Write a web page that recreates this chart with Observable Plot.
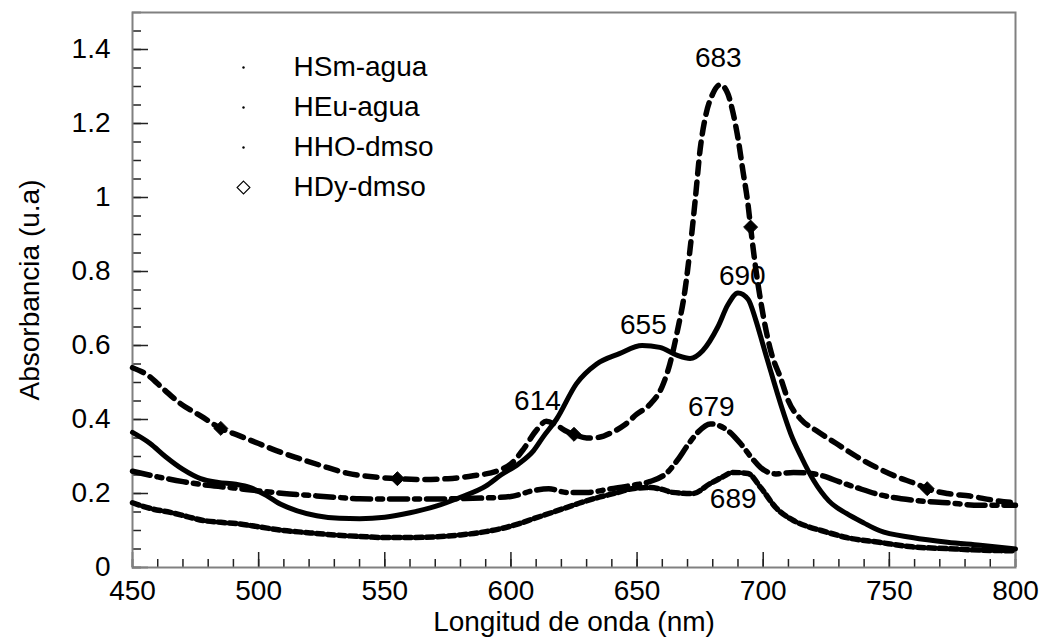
<!DOCTYPE html>
<html><head><meta charset="utf-8">
<script src="https://cdn.jsdelivr.net/npm/d3@7"></script>
<script src="https://cdn.jsdelivr.net/npm/@observablehq/plot@0.6"></script>
<style>
body{margin:0;background:#fff;}
svg{font-family:"Liberation Sans",Arial,sans-serif;}
</style>
</head><body><div id="chart"></div>
<script>
// ---- data ----
const seriesNames = ["HSm-agua", "HEu-agua", "HHO-dmso", "HDy-dmso"];

// HSm-agua (dotted, band 689)
const wlHSm  = [450,458,465,472,478,485,492,500,510,518,530,540,550,560,570,580,590,596,603,609,616,622,628,635,642,648,655,660,664,672,679,684,688,694,699,705,712,718,723,733,746,759,773,786,800];
const absHSm = [0.175,0.158,0.149,0.137,0.127,0.122,0.118,0.110,0.100,0.095,0.088,0.084,0.081,0.081,0.083,0.088,0.097,0.105,0.118,0.132,0.148,0.162,0.176,0.190,0.202,0.213,0.216,0.211,0.203,0.200,0.227,0.245,0.257,0.254,0.216,0.162,0.127,0.110,0.100,0.081,0.068,0.056,0.051,0.047,0.045];

// HEu-agua (dash-dot, band 679)
const wlHEu  = [450,460,470,480,490,500,510,520,530,540,550,560,570,580,590,600,609,615,622,630,639,648,655,662,666,670,674,679,686,691,695,699,705,712,718,724,730,737,746,759,773,786,800];
const absHEu = [0.260,0.245,0.232,0.222,0.215,0.207,0.200,0.195,0.190,0.186,0.185,0.185,0.185,0.186,0.188,0.192,0.208,0.213,0.203,0.203,0.212,0.222,0.232,0.257,0.290,0.330,0.365,0.388,0.370,0.335,0.300,0.270,0.253,0.257,0.255,0.247,0.232,0.216,0.197,0.182,0.175,0.168,0.168];

// HHO-dmso (solid, bands 655 / 690)
const wlHHO  = [450,457,463,470,477,484,491,497,503,509,515,523,532,540,550,560,570,580,590,596,603,609,613,618,626,634,643,652,659,666,671,676,682,686,690,694,697,700,703,707,711,715,720,726,733,740,746,759,773,786,800];
const absHHO = [0.365,0.335,0.300,0.265,0.240,0.230,0.225,0.215,0.195,0.170,0.154,0.140,0.133,0.132,0.136,0.148,0.165,0.190,0.220,0.250,0.280,0.316,0.355,0.400,0.497,0.550,0.578,0.600,0.595,0.573,0.565,0.586,0.650,0.710,0.742,0.725,0.670,0.600,0.530,0.440,0.360,0.300,0.235,0.180,0.146,0.120,0.100,0.081,0.068,0.060,0.050];

// HDy-dmso (dashed + diamonds, bands 614 / 683)
const wlHDy  = [450,456,462,469,477,485,492,500,507,515,525,535,545,555,565,575,585,595,600,605,610,614,618,622,625,630,635,640,645,650,655,660,663,666,669,671,673,675,677,680,683,686,688,690,692,694,695,697,699,703,707,710,715,721,729,737,745,753,761,765,773,782,791,800];
const absHDy = [0.540,0.520,0.484,0.443,0.410,0.376,0.357,0.335,0.316,0.297,0.275,0.255,0.245,0.240,0.238,0.240,0.248,0.262,0.280,0.320,0.370,0.395,0.385,0.368,0.360,0.350,0.352,0.365,0.385,0.415,0.440,0.490,0.550,0.640,0.750,0.860,0.990,1.130,1.215,1.280,1.305,1.280,1.230,1.160,1.070,0.980,0.920,0.810,0.720,0.585,0.510,0.450,0.400,0.370,0.335,0.300,0.270,0.245,0.225,0.213,0.200,0.193,0.182,0.175];
const diamondWl = [485, 555, 625, 695, 765];

// peak annotations
const peakLabels = ["683", "690", "655", "614", "679", "689"];
const peakWl     = [682.2, 691.7, 652.5, 610.5, 679.4, 688.1];
const peakAbs    = [1.378, 0.789, 0.654, 0.449, 0.435, 0.186];

// axes
const xTickLabels = [450, 500, 550, 600, 650, 700, 750, 800];
const yTickLabels = [0, 0.2, 0.4, 0.6, 0.8, 1, 1.2, 1.4];
const xTitle = "Longitud de onda (nm)";
const yTitle = "Absorbancia (u.a)";

// ---- build ----
const W = 1040, H = 642, mL = 132, mR = 25, mT = 12, mB = 75;
const fw = W - mL - mR, fh = H - mT - mB;
const rows = (wl, ab) => wl.map((w, i) => ({wl: w, abs: ab[i]}));
const dHSm = rows(wlHSm, absHSm), dHEu = rows(wlHEu, absHEu), dHHO = rows(wlHHO, absHHO), dHDy = rows(wlHDy, absHDy);
const dDiamond = dHDy.filter(d => diamondWl.includes(d.wl));
const dPeaks = peakLabels.map((t, i) => ({t, wl: peakWl[i], abs: peakAbs[i]}));

const xMinor = d3.range(450, 801, 10);
const yMinor = d3.range(0, 31).map(i => i * 0.05);
const FS = 28;
const tickStroke = "#222";

const legendMarks = [];
seriesNames.forEach((n, i) => {
  const dy = 55 + 40 * i;
  legendMarks.push(Plot.text([n], {frameAnchor: "top-left", dx: 161, dy, textAnchor: "start", lineAnchor: "middle", fontSize: FS, fill: "black"}));
  if (i < 3) {
    legendMarks.push(Plot.dot([n], {frameAnchor: "top-left", dx: 111, dy, r: 1.2, fill: "black", stroke: "none"}));
  } else {
    legendMarks.push(Plot.dot([n], {frameAnchor: "top-left", dx: 111, dy, r: 5.8, symbol: "diamond2", fill: "white", stroke: "black", strokeWidth: 1.1}));
  }
});

const chart = Plot.plot({
  width: W, height: H,
  marginLeft: mL, marginRight: mR, marginTop: mT, marginBottom: mB,
  style: {fontFamily: '"Liberation Sans", Arial, sans-serif', fontSize: FS + "px", background: "white", color: "black"},
  x: {domain: [450, 800]},
  y: {domain: [0, 1.5]},
  marks: [
    // ticks (inward)
    Plot.ruleX(xMinor, {x: d => d, insetTop: fh - 8, stroke: tickStroke, strokeWidth: 1.5}),
    Plot.ruleX(xTickLabels, {x: d => d, insetTop: fh - 15, stroke: tickStroke, strokeWidth: 1.5}),
    Plot.ruleY(yMinor, {y: d => d, insetRight: fw - 9, stroke: tickStroke, strokeWidth: 1.5}),
    Plot.ruleY(yTickLabels, {y: d => d, insetRight: fw - 16, stroke: tickStroke, strokeWidth: 1.5}),
    Plot.frame({stroke: "#808080", strokeWidth: 2}),
    Plot.axisX({ticks: xTickLabels, tickSize: 0, tickPadding: 13, label: null, fontSize: FS, tickFormat: d => String(d)}),
    Plot.axisY({ticks: yTickLabels, tickSize: 0, tickPadding: 22, label: null, fontSize: FS, tickFormat: d => String(d)}),
    Plot.text([yTitle], {frameAnchor: "left", dx: -102, rotate: -90, textAnchor: "middle", lineAnchor: "middle", fontSize: FS, fill: "black"}),
    Plot.text([xTitle], {frameAnchor: "bottom", dy: 55, textAnchor: "middle", lineAnchor: "middle", fontSize: FS, fill: "black"}),
    // curves
    Plot.line(dHSm, {x: "wl", y: "abs", stroke: "black", strokeWidth: 5.5, strokeDasharray: "7,4", curve: "monotone-x"}),
    Plot.line(dHEu, {x: "wl", y: "abs", stroke: "black", strokeWidth: 5.5, strokeDasharray: "18,7,5,7", curve: "monotone-x"}),
    Plot.line(dHHO, {x: "wl", y: "abs", stroke: "black", strokeWidth: 5, curve: "monotone-x"}),
    Plot.line(dHDy, {x: "wl", y: "abs", stroke: "black", strokeWidth: 5.5, strokeDasharray: "12,8", curve: "monotone-x"}),
    Plot.dot(dDiamond, {x: "wl", y: "abs", symbol: "diamond2", r: 6.3, fill: "black", stroke: "black", strokeWidth: 1}),
    // annotations
    Plot.text(dPeaks, {x: "wl", y: "abs", text: "t", fontSize: FS, fill: "black"}),
    ...legendMarks
  ]
});
document.getElementById("chart").appendChild(chart);
</script>
</body></html>
